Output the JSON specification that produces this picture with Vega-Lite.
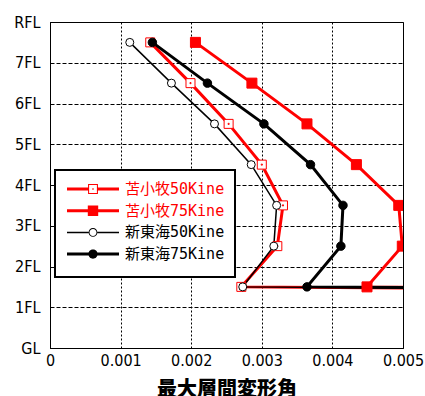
{
  "$schema": "https://vega.github.io/schema/vega-lite/v6.json",
  "width": 353,
  "height": 326,
  "autosize": {"type": "none"},
  "padding": {"left": 50, "top": 22, "right": 22, "bottom": 48},
  "background": "white",
  "config": {"view": {"stroke": "black", "strokeWidth": 1}},
  "data": {"values": [
    {"series": "苫小牧50Kine", "floor": 7.5, "drift": 0.00142},
    {"series": "苫小牧50Kine", "floor": 6.5, "drift": 0.00199},
    {"series": "苫小牧50Kine", "floor": 5.5, "drift": 0.00253},
    {"series": "苫小牧50Kine", "floor": 4.5, "drift": 0.00300},
    {"series": "苫小牧50Kine", "floor": 3.5, "drift": 0.00330},
    {"series": "苫小牧50Kine", "floor": 2.5, "drift": 0.00322},
    {"series": "苫小牧50Kine", "floor": 1.5, "drift": 0.00271},
    {"series": "苫小牧50Kine", "floor": 0.5, "drift": 0.08},
    {"series": "苫小牧75Kine", "floor": 7.5, "drift": 0.00206},
    {"series": "苫小牧75Kine", "floor": 6.5, "drift": 0.00286},
    {"series": "苫小牧75Kine", "floor": 5.5, "drift": 0.00364},
    {"series": "苫小牧75Kine", "floor": 4.5, "drift": 0.00434},
    {"series": "苫小牧75Kine", "floor": 3.5, "drift": 0.00494},
    {"series": "苫小牧75Kine", "floor": 2.5, "drift": 0.00499},
    {"series": "苫小牧75Kine", "floor": 1.5, "drift": 0.00449},
    {"series": "苫小牧75Kine", "floor": 0.5, "drift": 0.08},
    {"series": "新東海50Kine", "floor": 7.5, "drift": 0.00113},
    {"series": "新東海50Kine", "floor": 6.5, "drift": 0.00172},
    {"series": "新東海50Kine", "floor": 5.5, "drift": 0.00233},
    {"series": "新東海50Kine", "floor": 4.5, "drift": 0.00285},
    {"series": "新東海50Kine", "floor": 3.5, "drift": 0.00321},
    {"series": "新東海50Kine", "floor": 2.5, "drift": 0.00317},
    {"series": "新東海50Kine", "floor": 1.5, "drift": 0.00273},
    {"series": "新東海50Kine", "floor": 0.5, "drift": 0.08},
    {"series": "新東海75Kine", "floor": 7.5, "drift": 0.00145},
    {"series": "新東海75Kine", "floor": 6.5, "drift": 0.00223},
    {"series": "新東海75Kine", "floor": 5.5, "drift": 0.00303},
    {"series": "新東海75Kine", "floor": 4.5, "drift": 0.00369},
    {"series": "新東海75Kine", "floor": 3.5, "drift": 0.00415},
    {"series": "新東海75Kine", "floor": 2.5, "drift": 0.00412},
    {"series": "新東海75Kine", "floor": 1.5, "drift": 0.00364},
    {"series": "新東海75Kine", "floor": 0.5, "drift": 0.08}
  ]},
  "encoding": {
    "x": {
      "field": "drift", "type": "quantitative",
      "scale": {"domain": [0, 0.005], "nice": false, "zero": true},
      "axis": {
        "values": [0, 0.001, 0.002, 0.003, 0.004, 0.005],
        "labelExpr": "datum.value == 0 ? '0' : format(datum.value, '.3f')",
        "title": "最大層間変形角",
        "titleFont": "Noto Sans CJK JP", "titleFontWeight": 900, "titleFontSize": 20, "titleColor": "black",
        "titlePadding": 11,
        "grid": true, "gridColor": "black", "gridOpacity": 1, "gridDash": [2, 2], "gridWidth": 1,
        "ticks": false, "domain": true, "domainColor": "black",
        "labelFont": "DejaVu Sans Condensed, DejaVu Sans", "labelFontSize": 16, "labelColor": "black",
        "labelPadding": 4, "labelFlush": false, "labelOverlap": false, "labelBound": false
      }
    },
    "y": {
      "field": "floor", "type": "quantitative",
      "scale": {"domain": [0, 8], "nice": false},
      "axis": {
        "values": [0, 1, 2, 3, 4, 5, 6, 7, 8],
        "labelExpr": "['GL','1FL','2FL','3FL','4FL','5FL','6FL','7FL','RFL'][datum.value]",
        "title": null,
        "grid": true, "gridColor": "black", "gridOpacity": 1, "gridDash": [4, 2], "gridWidth": 1,
        "ticks": false, "domain": true, "domainColor": "black",
        "labelFont": "DejaVu Sans Condensed, DejaVu Sans", "labelFontSize": 16, "labelColor": "black",
        "labelPadding": 10, "labelFlush": false, "labelOverlap": false, "labelBound": false
      }
    }
  },
  "layer": [
    {
      "transform": [{"filter": "datum.series !== '新東海50Kine'"}],
      "mark": {"type": "line", "strokeWidth": 3, "clip": true},
      "encoding": {
        "order": {"field": "floor", "type": "quantitative"},
        "color": {
          "field": "series", "type": "nominal",
          "scale": {"domain": ["苫小牧50Kine", "苫小牧75Kine", "新東海50Kine", "新東海75Kine"], "range": ["#ff0000", "#ff0000", "#000000", "#000000"]},
          "legend": {
            "orient": "none", "legendX": 5, "legendY": 148,
            "title": " ", "titleOrient": "bottom", "titleFontSize": 1, "titlePadding": 4,
            "symbolSize": 2704, "symbolStrokeWidth": 0,
            "labelFont": "DejaVu Sans Mono, Noto Sans CJK JP", "labelFontSize": 15, "labelOffset": 8,
            "padding": 10, "rowPadding": 4.7,
            "encode": {
              "legend": {"update": {"fill": {"value": "white"}, "stroke": {"value": "black"}, "strokeWidth": {"value": 2}}},
              "symbols": {"update": {
                "shape": {"signal": "datum.value === '苫小牧50Kine' ? 'M-1,-0.058H-0.19V0.058H-1Z M0.19,-0.058H1V0.058H0.19Z M-0.19,-0.19H0.19V0.19H-0.19Z M-0.15,-0.15V0.15H0.15V-0.15Z M-0.025,-0.025H0.025V0.025H-0.025Z' : datum.value === '苫小牧75Kine' ? 'M-1,-0.058H1V0.058H-1Z M-0.2,-0.2H0.2V0.2H-0.2Z' : datum.value === '新東海50Kine' ? 'M-1,-0.029H-0.17V0.029H-1Z M0.17,-0.029H1V0.029H0.17Z M-0.17,0A0.17,0.17 0 1,1 0.17,0A0.17,0.17 0 1,1 -0.17,0Z M-0.135,0A0.135,0.135 0 1,0 0.135,0A0.135,0.135 0 1,0 -0.135,0Z' : 'M-1,-0.058H1V0.058H-1Z M-0.18,0A0.18,0.18 0 1,1 0.18,0A0.18,0.18 0 1,1 -0.18,0Z'"},
                "fill": {"signal": "indexof(datum.value, '苫小牧') >= 0 ? '#ff0000' : '#000000'"},
                "stroke": {"value": "transparent"},
                "strokeWidth": {"value": 0},
                "size": {"value": 2704},
                "opacity": {"value": 1},
                "x": {"value": 28},
                "y": {"value": 9}
              }},
              "labels": {"update": {
                "fill": {"signal": "indexof(datum.value, '苫小牧') >= 0 ? '#ff0000' : '#000000'"},
                "y": {"value": 9}
              }}
            }
          }
        }
      }
    },
    {
      "transform": [{"filter": "datum.series === '新東海50Kine'"}],
      "mark": {"type": "line", "strokeWidth": 1.5, "clip": true},
      "encoding": {
        "order": {"field": "floor", "type": "quantitative"},
        "color": {"field": "series", "type": "nominal"}
      }
    },
    {
      "transform": [{"filter": "datum.series === '苫小牧50Kine'"}],
      "mark": {"type": "point", "shape": "M-1,-1H1V1H-1Z M-0.12,-0.12H0.12V0.12H-0.12Z", "size": 81, "fill": "#ffffff", "stroke": "#ff0000", "strokeWidth": 1, "opacity": 1, "clip": true}
    },
    {
      "transform": [{"filter": "datum.series === '苫小牧75Kine'"}],
      "mark": {"type": "point", "shape": "square", "size": 100, "fill": "#ff0000", "stroke": "#ff0000", "strokeWidth": 1, "opacity": 1, "clip": true}
    },
    {
      "transform": [{"filter": "datum.series === '新東海50Kine'"}],
      "mark": {"type": "point", "shape": "circle", "size": 64, "fill": "#ffffff", "stroke": "#000000", "strokeWidth": 1, "opacity": 1, "clip": true}
    },
    {
      "transform": [{"filter": "datum.series === '新東海75Kine'"}],
      "mark": {"type": "point", "shape": "circle", "size": 72, "fill": "#000000", "stroke": "#000000", "strokeWidth": 1, "opacity": 1, "clip": true}
    }
  ]
}
